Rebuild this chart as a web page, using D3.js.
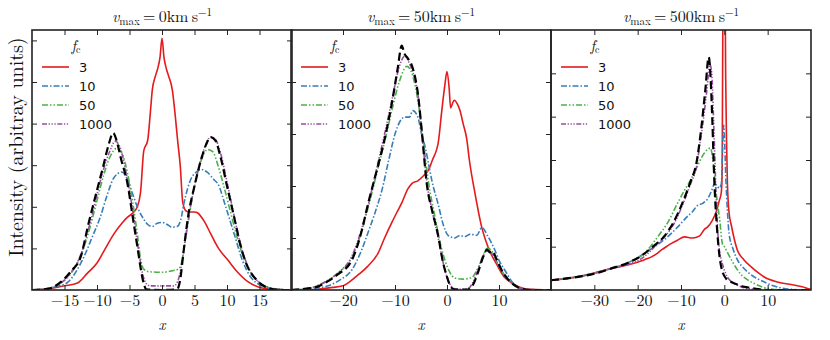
<!DOCTYPE html>
<html>
<head>
<meta charset="utf-8">
<script src="https://cdn.jsdelivr.net/npm/d3@7"></script>
<style>
  body { margin: 0; background: #fff; }
</style>
</head>
<body>
<div id="chart"></div>
<script>
// Line profiles for three v_max values and several f_c values

const vmaxLabels = ['0', '50', '500'];
const xDomains = [[-20, 20], [-30, 20], [-40, 20]];
const xTickVals = [[-15, -10, -5, 0, 5, 10, 15], [-20, -10, 0, 10], [-30, -20, -10, 0, 10]];
const yMaxes = [1.25, 1.0, 1.2];
const yTickVals = [0.2, 0.4, 0.6, 0.8, 1.0, 1.2];
const fcLabels = ['3', '10', '50', '1000'];

// panel 1 : v_max = 0
const p1_fc3 = [[-20,0],[-18,0.004],[-16.7,0.01],[-15,0.02],[-13,0.034],[-11.5,0.08],[-10,0.13],[-8.7,0.2],[-7.4,0.27],[-6.2,0.32],[-5.3,0.35],[-4.5,0.37],[-3.8,0.4],[-3.3,0.47],[-2.8,0.67],[-2.2,0.72],[-1.8,0.85],[-1.5,0.96],[-1,1.03],[-0.7,1.06],[-0.3,1.12],[0,1.21],[0.3,1.12],[0.7,1.06],[1,1.03],[1.6,0.96],[2,0.85],[2.4,0.72],[2.8,0.6],[3.2,0.42],[3.7,0.38],[4.2,0.375],[5,0.375],[5.5,0.37],[6.5,0.33],[7.5,0.27],[8.7,0.2],[10.1,0.145],[11.5,0.09],[13.2,0.04],[14.8,0.015],[16.3,0.005],[18,0.001],[20,0]];
const p1_fc10 = [[-20,0],[-18.2,0.005],[-16.5,0.015],[-14.6,0.035],[-13,0.1],[-12,0.16],[-10.8,0.25],[-9.5,0.35],[-8.4,0.46],[-7.4,0.54],[-6.2,0.567],[-5.3,0.53],[-4.5,0.46],[-3.8,0.4],[-2.8,0.34],[-2.2,0.315],[-1.5,0.305],[-0.8,0.32],[0,0.325],[0.8,0.315],[1.5,0.302],[2.3,0.305],[2.9,0.34],[3.4,0.42],[4.4,0.53],[5.2,0.565],[6,0.58],[7,0.565],[8,0.53],[8.6,0.51],[9.8,0.4],[11.1,0.27],[12.4,0.14],[13.7,0.06],[15,0.025],[16.3,0.01],[18,0.002],[20,0]];
const p1_fc50 = [[-20,0],[-18,0.004],[-16,0.025],[-14,0.08],[-12.5,0.165],[-11,0.31],[-10,0.43],[-9,0.55],[-8,0.64],[-7,0.68],[-6.2,0.66],[-5.3,0.56],[-4.5,0.42],[-3.8,0.27],[-3.3,0.15],[-2.8,0.1],[-2,0.088],[0,0.085],[1.5,0.092],[2.5,0.1],[3,0.13],[3.5,0.22],[4.2,0.36],[5,0.5],[6,0.62],[7,0.675],[7.8,0.665],[8.6,0.6],[9.5,0.5],[10.5,0.38],[11.5,0.26],[12.5,0.16],[13.5,0.09],[15,0.035],[17,0.008],[20,0]];
const p1_fc1000 = [[-20,0],[-18,0.003],[-16,0.025],[-14,0.085],[-12.5,0.17],[-11,0.33],[-10,0.46],[-9,0.58],[-8,0.67],[-7.2,0.715],[-6.5,0.69],[-5.5,0.56],[-4.5,0.38],[-3.7,0.21],[-3,0.08],[-2.4,0.03],[-1.8,0.02],[0,0.02],[1.8,0.02],[2.4,0.04],[3,0.12],[3.7,0.27],[4.5,0.42],[5.5,0.57],[6.5,0.68],[7.5,0.735],[8.3,0.72],[9,0.66],[10,0.52],[11,0.37],[12,0.23],[13,0.13],[14,0.07],[15.5,0.025],[17,0.007],[20,0]];
const p1_ref = [[-20,0],[-17.6,0.005],[-15.5,0.04],[-14,0.09],[-12.5,0.16],[-11.3,0.32],[-10,0.48],[-9,0.6],[-8.2,0.7],[-7.5,0.755],[-7,0.72],[-6.3,0.63],[-5.3,0.51],[-4.5,0.35],[-3.7,0.19],[-3.2,0.09],[-2.8,0.03],[-2.4,0.003],[0,0],[2.3,0.003],[2.8,0.05],[3.3,0.18],[4,0.35],[5,0.5],[6,0.625],[6.8,0.7],[7.5,0.735],[8.2,0.72],[9,0.64],[10,0.5],[11.1,0.35],[12.2,0.2],[13.2,0.11],[14.5,0.05],[16.3,0.01],[18,0],[20,0]];

// panel 2 : v_max = 50
const p2_fc3 = [[-30,0],[-25,0.003],[-22,0.01],[-20.2,0.015],[-18.5,0.035],[-17.1,0.058],[-15.3,0.09],[-13.3,0.14],[-12,0.2],[-10.6,0.26],[-9.6,0.3],[-8.7,0.335],[-7.5,0.39],[-6.7,0.41],[-5.6,0.42],[-4.5,0.44],[-3.6,0.46],[-2.8,0.5],[-2,0.54],[-1.7,0.565],[-1,0.69],[-0.4,0.79],[0,0.84],[0.4,0.78],[0.7,0.7],[1.1,0.72],[1.4,0.73],[2,0.715],[2.5,0.69],[3.1,0.64],[3.8,0.58],[4.3,0.5],[5.4,0.37],[6.7,0.24],[7.9,0.165],[9.8,0.09],[11,0.05],[12.5,0.027],[15,0.005],[20,0]];
const p2_fc10 = [[-30,0],[-26,0.006],[-23,0.015],[-20.5,0.04],[-18.3,0.077],[-16.5,0.15],[-15.2,0.22],[-13.8,0.3],[-12.5,0.385],[-11.2,0.5],[-10,0.6],[-9,0.65],[-8.1,0.665],[-7.2,0.665],[-6.6,0.69],[-5.6,0.665],[-4.9,0.6],[-4.2,0.55],[-3.5,0.48],[-2.9,0.42],[-1.7,0.33],[-0.7,0.25],[0.2,0.21],[1.5,0.2],[2.5,0.21],[3.4,0.205],[4.5,0.215],[5.7,0.21],[6.7,0.24],[7.9,0.205],[9.2,0.154],[10.1,0.11],[11.1,0.077],[12.4,0.035],[13.7,0.01],[16,0.002],[20,0]];
const p2_fc50 = [[-30,0],[-27,0.005],[-24,0.025],[-21,0.065],[-18.3,0.125],[-16.5,0.22],[-15,0.33],[-13.5,0.45],[-12,0.57],[-10.5,0.7],[-9.2,0.8],[-7.7,0.86],[-6.7,0.83],[-5.6,0.73],[-4.6,0.58],[-3.6,0.42],[-2.3,0.28],[-1.3,0.18],[-0.4,0.115],[0.5,0.07],[1.5,0.046],[3,0.042],[4.8,0.048],[5.7,0.075],[6.7,0.115],[7.7,0.16],[8.4,0.155],[9.8,0.1],[11,0.06],[12.5,0.025],[14,0.008],[16,0.001],[20,0]];
const p2_fc1000 = [[-30,0],[-27,0.005],[-24,0.025],[-21,0.065],[-18.3,0.13],[-16.5,0.23],[-15,0.34],[-13.5,0.47],[-12,0.6],[-10.5,0.74],[-9.3,0.85],[-8.1,0.9],[-7.2,0.87],[-6.3,0.82],[-5.5,0.74],[-4.8,0.6],[-3.9,0.42],[-2.8,0.3],[-1.8,0.21],[-0.8,0.11],[0,0.05],[0.8,0.015],[1.5,0.005],[3,0.003],[4.2,0.008],[5,0.03],[6,0.08],[7,0.135],[7.7,0.15],[8.3,0.145],[9,0.13],[10,0.09],[11,0.055],[12.5,0.025],[14,0.008],[16,0.001],[20,0]];
const p2_ref = [[-30,0],[-28,0.003],[-25,0.012],[-23.5,0.027],[-21,0.06],[-18.3,0.115],[-16.5,0.22],[-15.2,0.33],[-13.5,0.46],[-12,0.58],[-10.5,0.73],[-9.5,0.85],[-8.7,0.94],[-8.2,0.91],[-7.5,0.89],[-6.7,0.86],[-5.5,0.74],[-4.8,0.6],[-3.9,0.41],[-2.8,0.3],[-1.8,0.22],[-0.8,0.11],[0,0.05],[0.8,0.01],[1.5,0.002],[4,0.002],[5,0.02],[6,0.07],[7,0.13],[7.7,0.155],[8.2,0.145],[8.7,0.15],[9.5,0.12],[10.5,0.077],[12,0.035],[13.7,0.01],[16,0],[20,0]];

// panel 3 : v_max = 500
const p3_fc3 = [[-40,0.045],[-35,0.057],[-30,0.078],[-26,0.1],[-22.3,0.115],[-18.4,0.14],[-16.8,0.153],[-15.4,0.17],[-14.5,0.185],[-13,0.205],[-12.2,0.215],[-10.8,0.23],[-9.2,0.245],[-7.4,0.24],[-5.7,0.25],[-4.6,0.28],[-3.9,0.29],[-2.8,0.32],[-1.9,0.36],[-1.2,0.41],[-0.7,0.45],[-0.5,0.55],[-0.4,1.0],[-0.2,1.6],[0.1,1.6],[0.3,1.0],[0.5,0.7],[0.7,0.5],[1.1,0.355],[1.6,0.3],[3,0.185],[4.5,0.14],[6.2,0.107],[7.8,0.08],[9.2,0.06],[12.2,0.037],[16,0.023],[18,0.015],[19.6,0.005],[20,0.004]];
const p3_fc10 = [[-40,0.045],[-35,0.058],[-30,0.078],[-26,0.1],[-22.3,0.125],[-18.4,0.17],[-16.1,0.2],[-13.1,0.245],[-10.8,0.29],[-8.5,0.34],[-7.4,0.36],[-6.2,0.39],[-5,0.4],[-3.9,0.42],[-2.9,0.46],[-2.3,0.49],[-1.8,0.485],[-1.2,0.47],[-0.7,0.49],[-0.15,0.76],[0.4,0.49],[0.7,0.37],[1.1,0.26],[2,0.19],[3,0.14],[4.5,0.1],[6.2,0.07],[7.8,0.05],[9.2,0.037],[10.5,0.025],[12.2,0.014],[15,0.004],[20,0]];
const p3_fc50 = [[-40,0.045],[-35,0.057],[-30,0.078],[-26,0.1],[-22.3,0.125],[-18.4,0.17],[-15.4,0.245],[-13.1,0.31],[-10.8,0.4],[-9.2,0.46],[-8,0.5],[-6.5,0.56],[-5,0.62],[-3.8,0.65],[-3.2,0.655],[-2.7,0.61],[-1.9,0.45],[-1.1,0.33],[-0.4,0.21],[0,0.2],[0.8,0.17],[1.6,0.14],[2.8,0.1],[3.9,0.07],[5.5,0.045],[6.9,0.03],[9,0.012],[10.8,0.005],[14,0],[20,0]];
const p3_fc1000 = [[-40,0.045],[-35,0.057],[-30,0.077],[-26,0.1],[-22.3,0.118],[-18.4,0.155],[-16.1,0.2],[-13.8,0.245],[-11.5,0.31],[-9.2,0.415],[-7.6,0.5],[-6.5,0.56],[-5.6,0.68],[-5,0.76],[-4.1,0.91],[-3.3,1.04],[-2.9,1.0],[-2.7,0.91],[-2.3,0.68],[-1.8,0.38],[-1.1,0.175],[-0.7,0.14],[0.7,0.06],[3,0.023],[6.2,0.005],[10,0],[20,0]];
const p3_ref = [[-40,0.045],[-35,0.057],[-30,0.075],[-26,0.1],[-22.3,0.125],[-19,0.16],[-16.5,0.2],[-14,0.245],[-11.8,0.31],[-9.5,0.41],[-7.8,0.5],[-6.5,0.58],[-5.3,0.75],[-4.4,0.92],[-3.6,1.075],[-3.1,0.95],[-2.8,0.8],[-2.3,0.5],[-1.6,0.26],[-0.7,0.105],[0.5,0.05],[1.6,0.037],[3,0.025],[4.6,0.015],[6,0.01],[7.8,0.004],[10,0],[20,0]];

// style per f_c (reference curve last)
const lineColors = ['#e41a1c', '#377eb8', '#4daf4a', '#984ea3', '#000000'];
const lineDashes = [null, '6,2,1.5,2', '6,2,1.5,2,1.5,2', '5,1.6,1.3,1.6,1.3,1.6,1.3,1.6', '8,4'];
const lineWidths = [1.6, 1.6, 1.6, 1.6, 2.2];

const panelSeries = [
  [p1_fc3, p1_fc10, p1_fc50, p1_fc1000, p1_ref],
  [p2_fc3, p2_fc10, p2_fc50, p2_fc1000, p2_ref],
  [p3_fc3, p3_fc10, p3_fc50, p3_fc1000, p3_ref]
];

const serif = 'Latin Modern Roman, Liberation Serif, serif';
const sans = 'DejaVu Sans, sans-serif';

const W = 830, H = 340;
const plotTop = 30, plotBottom = 290;
const panelLeft = [32, 291, 551];
const panelW = 260;

const svg = d3.select('#chart').append('svg')
  .attr('width', W).attr('height', H);

// y label
svg.append('text')
  .attr('transform', 'translate(23, 147) rotate(-90)')
  .attr('text-anchor', 'middle')
  .attr('font-family', serif)
  .attr('font-size', 20)
  .attr('fill', '#111')
  .text('Intensity (arbitray units)');

panelSeries.forEach((series, p) => {
  const x0 = panelLeft[p];
  const x = d3.scaleLinear().domain(xDomains[p]).range([x0, x0 + panelW]);
  const y = d3.scaleLinear().domain([0, yMaxes[p]]).range([plotBottom, plotTop]);
  const yt = yTickVals.filter(v => v < yMaxes[p] - 1e-6);

  const g = svg.append('g');

  g.append('clipPath').attr('id', 'clip' + p)
    .append('rect').attr('x', x0).attr('y', plotTop).attr('width', panelW).attr('height', plotBottom - plotTop);

  const line = d3.line().x(d => x(d[0])).y(d => y(d[1])).curve(d3.curveMonotoneX);

  const curves = g.append('g').attr('clip-path', `url(#clip${p})`);
  series.forEach((s, i) => {
    curves.append('path')
      .attr('d', line(s))
      .attr('fill', 'none')
      .attr('stroke', lineColors[i])
      .attr('stroke-width', lineWidths[i])
      .attr('stroke-dasharray', lineDashes[i])
      .attr('stroke-linejoin', 'round');
  });

  // inward ticks on all four sides
  const tickLen = 5;
  const axisStyle = sel => {
    sel.select('.domain').remove();
    sel.selectAll('line').attr('stroke', '#222').attr('stroke-width', 1);
  };
  g.append('g').attr('transform', `translate(0,${plotBottom})`)
    .call(d3.axisBottom(x).tickValues(xTickVals[p]).tickSizeInner(-tickLen).tickPadding(5)
      .tickFormat(d => d < 0 ? '\u2212' + Math.abs(d) : d))
    .call(axisStyle)
    .call(s => s.attr('font-family', serif).attr('font-size', 16))
    .call(s => s.selectAll('text').attr('fill', '#111'));
  g.append('g').attr('transform', `translate(0,${plotTop})`)
    .call(d3.axisTop(x).tickValues(xTickVals[p]).tickSizeInner(-tickLen).tickFormat(''))
    .call(axisStyle);
  g.append('g').attr('transform', `translate(${x0},0)`)
    .call(d3.axisLeft(y).tickValues(yt).tickSizeInner(-tickLen).tickFormat(''))
    .call(axisStyle);
  g.append('g').attr('transform', `translate(${x0 + panelW},0)`)
    .call(d3.axisRight(y).tickValues(yt).tickSizeInner(-tickLen).tickFormat(''))
    .call(axisStyle);

  // frame
  g.append('rect')
    .attr('x', x0).attr('y', plotTop).attr('width', panelW).attr('height', plotBottom - plotTop)
    .attr('fill', 'none').attr('stroke', '#222').attr('stroke-width', 1.6);

  // title
  const t = g.append('text')
    .attr('x', x0 + panelW / 2).attr('y', 22)
    .attr('text-anchor', 'middle')
    .attr('font-family', serif)
    .attr('font-size', 16)
    .attr('fill', '#111');
  t.append('tspan').attr('font-style', 'italic').text('v');
  t.append('tspan').attr('dy', 3).attr('font-size', 11).text('max');
  t.append('tspan').attr('dy', -3).text('\u2009=\u2009' + vmaxLabels[p] + 'km\u2009s');
  t.append('tspan').attr('dy', -6).attr('font-size', 11).text('\u22121');

  // x label
  g.append('text')
    .attr('x', x0 + panelW / 2).attr('y', 330)
    .attr('text-anchor', 'middle')
    .attr('font-family', serif)
    .attr('font-size', 15).attr('font-style', 'italic')
    .attr('fill', '#111')
    .text('x');

  // legend
  const lx = x0 + 10;
  const lt = g.append('text').attr('x', lx + 34).attr('y', 51)
    .attr('text-anchor', 'middle')
    .attr('font-family', serif)
    .attr('font-size', 15)
    .attr('fill', '#111');
  lt.append('tspan').attr('font-style', 'italic').text('f');
  lt.append('tspan').attr('dy', 2).attr('font-size', 10).text('c');

  fcLabels.forEach((lab, i) => {
    const ly = 67 + i * 19;
    g.append('line')
      .attr('x1', lx).attr('x2', lx + 27).attr('y1', ly).attr('y2', ly)
      .attr('stroke', lineColors[i]).attr('stroke-width', lineWidths[i])
      .attr('stroke-dasharray', lineDashes[i]);
    g.append('text')
      .attr('x', lx + 37).attr('y', ly + 5)
      .attr('font-family', sans)
      .attr('font-size', 13)
      .attr('fill', '#111')
      .text(lab);
  });
});
</script>
</body>
</html>
